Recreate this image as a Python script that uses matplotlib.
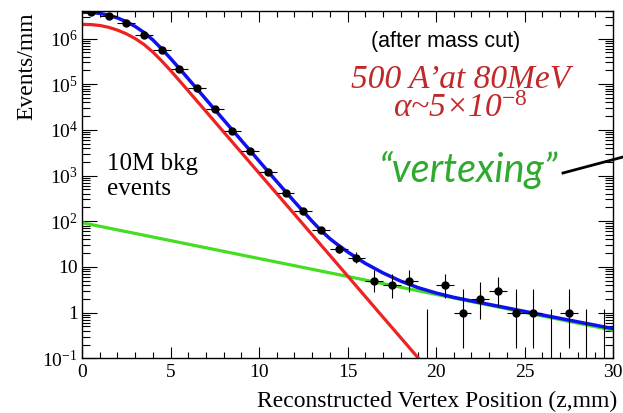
import matplotlib
matplotlib.use('Agg')
import matplotlib.pyplot as plt
from matplotlib.lines import Line2D
from matplotlib.ticker import FixedLocator, FixedFormatter, NullFormatter, MultipleLocator
import numpy as np

plt.rcParams['font.family'] = 'Liberation Serif'
plt.rcParams['mathtext.fontset'] = 'custom'
plt.rcParams['mathtext.rm'] = 'Liberation Serif'
plt.rcParams['mathtext.it'] = 'Liberation Serif:italic'

# data histogram (1 mm bins)
bin_z = [0.5, 1.5, 2.5, 3.5, 4.5, 5.5, 6.5, 7.5, 8.5, 9.5,
         10.5, 11.5, 12.5, 13.5, 14.5, 15.5, 16.5, 17.5, 18.5, 19.5,
         20.5, 21.5, 22.5, 23.5, 24.5, 25.5, 26.5, 27.5, 28.5, 29.5]
counts = [3.8e6, 3.1e6, 2.24e6, 1.18e6, 5.5e5, 2.2e5, 8.2e4, 2.8e4, 9.6e3, 3.5e3,
          1.2e3, 420, 170, 64, 25, 16, 5, 4, 5, 0,
          4, 1, 2, 3, 1, 1, 0, 1, 0, 0]
zero_bin_upper = 1.2

# fitted curves
sig_z = [0, 0.5, 1, 1.5, 2, 2.5, 3, 3.5, 4, 4.5, 5, 5.5, 6, 7, 8, 9, 10,
         11, 12, 13, 14, 15, 16, 17, 18, 19, 20]
sig_y = [2.04e6, 2.02e6, 1.93e6, 1.76e6, 1.53e6, 1.27e6, 1.0e6, 7.41e5, 5.07e5, 3.24e5,
         2.0e5, 1.20e5, 7.16e4, 2.54e4, 9.02e3, 3.2e3, 1.135e3, 403, 143, 50.7,
         18.0, 6.38, 2.26, 0.80, 0.285, 0.101, 0.036]

bkg_z = [0, 15, 30]
bkg_y = [93, 6.2, 0.41]

tot_z = [0, 0.5, 1, 1.5, 2, 2.5, 3, 3.5, 4, 4.5, 5, 5.5, 6, 7, 8, 9, 10,
         11, 12, 13, 13.5, 14, 14.5, 15, 16, 17, 18, 19, 20, 21, 22, 24, 26, 28, 30]
tot_y = [3.76e6, 3.72e6, 3.55e6, 3.24e6, 2.82e6, 2.34e6, 1.84e6, 1.36e6, 9.33e5, 5.96e5,
         3.67e5, 2.21e5, 1.32e5, 4.68e4, 1.66e4, 5.89e3, 2.09e3, 741, 269, 100,
         63, 41.7, 29.5, 21.4, 12.0, 7.41, 4.90, 3.51, 2.69, 2.16, 1.80, 1.27, 0.89, 0.63, 0.447]

ytick_vals = [0.1, 1, 10, 1e2, 1e3, 1e4, 1e5, 1e6]
ytick_labels = ['10$^{-1}$', '1', '10', '10$^{2}$', '10$^{3}$', '10$^{4}$', '10$^{5}$', '10$^{6}$']

W, H = 623, 413
fig = plt.figure(figsize=(W / 100, H / 100), dpi=100)
ax = fig.add_axes([82 / W, 1 - 358.3 / H, (613 - 82) / W, (358.3 - 11) / H])
ax.set_yscale('log')
ax.set_xlim(0, 30)
ax.set_ylim(0.1, 4e6)

ax.plot(bkg_z, bkg_y, color='#44dd22', lw=2.3, zorder=2)
ax.plot(sig_z, sig_y, color='#ee2222', lw=2.3, zorder=2)
ax.plot(tot_z, tot_y, color='#1010ee', lw=2.5, zorder=2.5)

# Poisson-like error bars
z = np.array(bin_z)
n = np.array(counts, dtype=float)
nz = n > 0
nn = n[nz]
low = nn * (1 - 1 / (9 * nn) - 1 / (3 * np.sqrt(nn))) ** 3
up = (nn + 1) * (1 - 1 / (9 * (nn + 1)) + 1 / (3 * np.sqrt(nn + 1))) ** 3
ax.errorbar(z[nz], nn, xerr=0.5, yerr=[nn - low, up - nn], fmt='o', color='k',
            ms=5, elinewidth=0.8, capsize=0, zorder=3)
ax.vlines(z[~nz], 0.1, zero_bin_upper, color='k', lw=0.8, zorder=3)

# ROOT-like axes
ax.xaxis.set_major_locator(MultipleLocator(5))
ax.xaxis.set_minor_locator(MultipleLocator(1))
ax.yaxis.set_major_locator(FixedLocator(ytick_vals))
ax.yaxis.set_major_formatter(FixedFormatter(ytick_labels))
minors = [m * 10.0 ** e for e in range(-1, 7) for m in range(2, 10)]
ax.yaxis.set_minor_locator(FixedLocator(minors))
ax.yaxis.set_minor_formatter(NullFormatter())
ax.tick_params(which='both', direction='in', top=True, right=True, labelsize=14, width=0.8)
ax.tick_params(axis='x', which='major', length=8, pad=4)
ax.tick_params(axis='x', which='minor', length=4)
ax.tick_params(axis='y', which='major', length=11, pad=3)
ax.tick_params(axis='y', which='minor', length=5.5)
for s in ax.spines.values():
    s.set_linewidth(1.0)

fig.text(617 / W, 1 - 407 / H, 'Reconstructed Vertex Position (z,mm)', ha='right',
         va='baseline', fontsize=17)
fig.text(27 / W, 1 - 12 / H, 'Events/mm', rotation=90, ha='center', va='top', fontsize=17)

# annotations
fig.text(446 / W, 1 - 47 / H, '(after mass cut)', family='Liberation Sans',
         ha='center', va='baseline', fontsize=15.5)
fig.text(461 / W, 1 - 87 / H, '500 A\u2019at 80MeV', style='italic', color='#c0282a',
         ha='center', va='baseline', fontsize=24)
fig.text(460 / W, 1 - 117 / H, 'α~5×10$^{\\mathit{-8}}$', style='italic', color='#c0282a',
         ha='center', va='baseline', fontsize=24)
fig.text(468 / W, 1 - 182 / H, '\u201cvertexing\u201d', family='Lato', style='italic',
         color='#2eaa2e', ha='center', va='baseline', fontsize=28.5)
fig.text(107 / W, 1 - 170 / H, '10M bkg', ha='left', va='baseline', fontsize=18)
fig.text(107 / W, 1 - 195 / H, 'events', ha='left', va='baseline', fontsize=18)

fig.add_artist(Line2D([563 / W, 623 / W], [1 - 173 / H, 1 - 157 / H], color='k', lw=2))

fig.savefig('out.png', dpi=100)
